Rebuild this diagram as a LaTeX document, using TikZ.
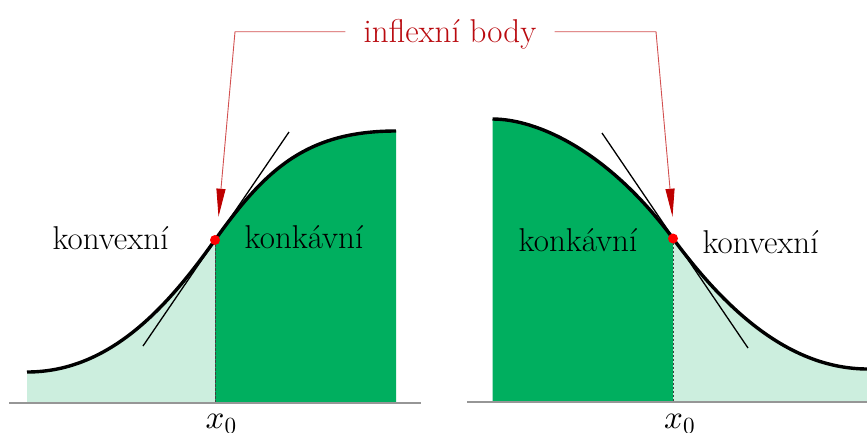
\documentclass[tikz,border=0pt]{standalone}
\usepackage{fontspec}
\DeclareFontShape{OML}{cmm}{m}{it}{<->cmmi10}{}
\DeclareFontShape{OT1}{cmr}{m}{n}{<->cmr10}{}
\DeclareFontShape{OMS}{cmsy}{m}{n}{<->cmsy10}{}
\usetikzlibrary{arrows.meta}
\definecolor{dkgreen}{RGB}{0,175,95}
\definecolor{ltgreen}{RGB}{204,238,222}
\definecolor{arrline}{RGB}{210,80,80}
\definecolor{arrtip}{RGB}{190,0,0}
\definecolor{txtred}{RGB}{185,10,15}
\definecolor{axisgray}{RGB}{150,150,150}
\begin{document}
\begin{tikzpicture}[x=1pt,y=-1pt,
  lbl/.style={font=\fontsize{33}{39}\selectfont, inner sep=0pt, anchor=base},
  curve/.style={line width=3.4pt},
  tangent/.style={line width=1.3pt},
  axisline/.style={axisgray, line width=1.3pt},
  dropline/.style={black!75, line width=0.6pt, dash pattern=on 2.5pt off 1.5pt},
  ipoint/.style={red},
  pointer/.style={arrline, line width=0.9pt, -{Triangle[length=28pt,width=9pt,color=arrtip]}}]
\useasboundingbox (0,0) rectangle (867,432);

% ---------- left panel ----------
\coordinate (iL) at (215,240);
\fill[ltgreen] (27,403) -- (27,372) .. controls (112,372) and (170,303) .. (iL) -- (215,403) -- cycle;
\fill[dkgreen] (215,403) -- (iL) .. controls (265,170) and (306,131) .. (396,131) -- (396,403) -- cycle;
\draw[dropline] (iL) -- (215,403);
\draw[tangent] (143,346) -- (289,132);
\draw[curve] (27,372) .. controls (112,372) and (170,303) .. (iL) .. controls (265,170) and (306,131) .. (396,131);
\draw[axisline] (9,403) -- (421,403);
\fill[ipoint] (iL) circle[radius=5pt];

% ---------- right panel ----------
\coordinate (iR) at (673,238.5);
\fill[dkgreen] (492.5,402) -- (492.5,119) .. controls (537,119) and (608,150.75) .. (iR) -- (673,402) -- cycle;
\fill[ltgreen] (673,402) -- (iR) .. controls (723,306) and (787,369) .. (867,369) -- (867,402) -- cycle;
\draw[dropline] (iR) -- (673,402);
\draw[tangent] (602,133) -- (748,348);
\draw[curve] (492.5,119) .. controls (537,119) and (608,150.75) .. (iR) .. controls (723,306) and (787,369) .. (868,369);
\draw[axisline] (467,402) -- (867,402);
\fill[ipoint] (iR) circle[radius=5pt];

% ---------- labels ----------
\node[lbl] (kvL) at (110.5,249.3) {konvexní};
\node[lbl] (kkL) at (304,248.5) {konkávní};
\node[lbl] (kkR) at (578,251) {konkávní};
\node[lbl] (kvR) at (760.5,253.5) {konvexní};
\node[lbl, anchor=base west] (x0L) at (205.5,428.5) {$x_0$};
\node[lbl, anchor=base west] (x0R) at (664,428.5) {$x_0$};

% ---------- pointers ----------
\node[lbl, text=txtred, inner xsep=18pt] (title) at (450,42.7) {inflexní body};
\coordinate (cL) at (235,31.7);
\coordinate (cR) at (656,31.7);
\coordinate (tL) at (218.5,216.7);
\coordinate (tR) at (672.5,216.7);
\draw[pointer] (title.west |- cL) -- (cL) -- (tL);
\draw[pointer] (title.east |- cR) -- (cR) -- (tR);
\end{tikzpicture}
\end{document}
